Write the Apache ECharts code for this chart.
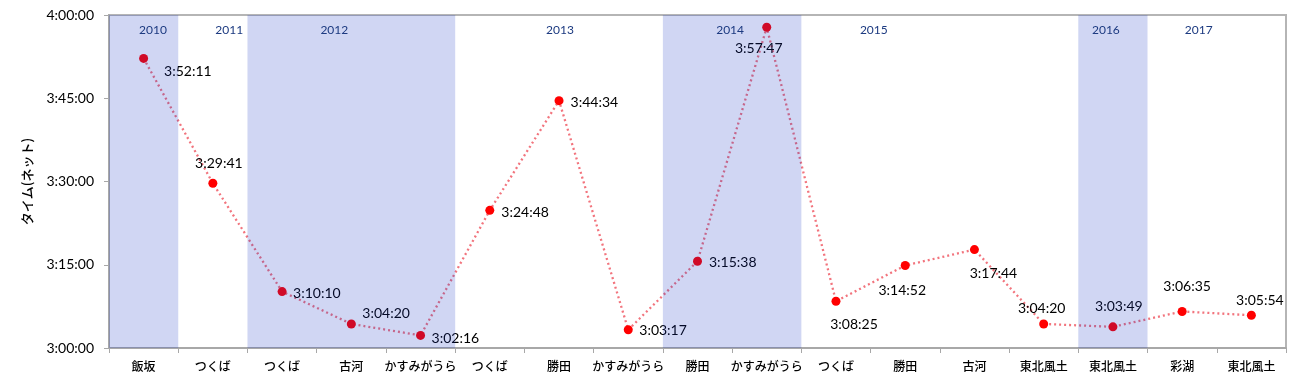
<!DOCTYPE html>
<html>
<head>
<meta charset="utf-8">
<script src="https://cdn.jsdelivr.net/npm/echarts@6/dist/echarts.min.js"></script>
<style>
  html, body { margin: 0; padding: 0; background: #fff; }
  #chart { width: 1300px; height: 388px; }
</style>
</head>
<body>
<div id="chart"></div>
<script>
// ---- data ----
const categories = ['飯坂', 'つくば', 'つくば', '古河', 'かすみがうら', 'つくば', '勝田', 'かすみがうら', '勝田', 'かすみがうら', 'つくば', '勝田', '古河', '東北風土', '東北風土', '彩湖', '東北風土'];
const netTimes = ['3:52:11', '3:29:41', '3:10:10', '3:04:20', '3:02:16', '3:24:48', '3:44:34', '3:03:17', '3:15:38', '3:57:47', '3:08:25', '3:14:52', '3:17:44', '3:04:20', '3:03:49', '3:06:35', '3:05:54'];
const yTickLabels = ['3:00:00', '3:15:00', '3:30:00', '3:45:00', '4:00:00'];
const yearLabels = ['2010', '2011', '2012', '2013', '2014', '2015', '2016', '2017'];
const yearStart = [0, 1, 2, 5, 8, 10, 14, 15];   // first category index of each year
const yearEnd = [1, 2, 5, 8, 10, 14, 15, 17];     // end (exclusive) category index
const yearShaded = [1, 0, 1, 0, 1, 0, 1, 0];

// ---- styles (not data) ----
const labelPlacement = [
  ['right', 11, 13], ['top', 6, -3], ['right', 1.5, 1.7], ['right', 1.5, -10], ['right', 1.5, 3],
  ['right', 2, 2], ['right', 2, 2], ['right', 1.5, 1], ['right', 2, 1.7], ['bottom', -8, 5],
  ['bottom', 18, 6.5], ['bottom', -3, 8.5], ['bottom', 19, 7], ['top', -2, 1], ['top', 6, -4],
  ['top', 5, -8.5], ['top', 8.5, 1.5]
];
const yearLabelDx = [9.4, 16.4, -17, 1, -2, -66, -7, -18];

function toSec(s) { const p = s.split(':').map(Number); return p[0] * 3600 + p[1] * 60 + p[2]; }
function fmt(v) {
  const h = Math.floor(v / 3600), m = Math.floor((v % 3600) / 60), s = Math.round(v % 60);
  return h + ':' + String(m).padStart(2, '0') + ':' + String(s).padStart(2, '0');
}
const yMin = toSec(yTickLabels[0]);
const yMax = toSec(yTickLabels[yTickLabels.length - 1]);
const yStep = toSec(yTickLabels[1]) - yMin;

const lineData = netTimes.map((t, i) => ({
  value: toSec(t),
  label: { position: labelPlacement[i][0], offset: [labelPlacement[i][1], labelPlacement[i][2]] }
}));
const bandData = yearLabels.map((y, i) => [yearStart[i], yearEnd[i], yearShaded[i]]);

const chart = echarts.init(document.getElementById('chart'), null, { renderer: 'canvas' });
chart.setOption({
  animation: false,
  backgroundColor: '#fff',
  grid: { left: 109, right: 14, top: 15, bottom: 40, show: true, borderColor: '#b5b5b5', borderWidth: 2, backgroundColor: 'transparent' },
  xAxis: [
    {
      type: 'category', data: categories, boundaryGap: true,
      axisLine: { lineStyle: { color: '#a8a8a8', width: 2 } },
      axisTick: { show: true, length: 5, lineStyle: { color: '#a8a8a8', width: 1 } },
      axisLabel: { interval: 0, margin: 12, color: '#000', fontSize: 12, fontWeight: 500, fontFamily: '"Noto Sans CJK JP"' }
    },
    { type: 'value', min: 0, max: categories.length, show: false }
  ],
  yAxis: {
    type: 'value', min: yMin, max: yMax, interval: yStep,
    name: 'タイム(ネット)', nameLocation: 'middle', nameGap: 75, nameRotate: 90,
    nameTextStyle: { color: '#000', fontSize: 13, fontWeight: 500, fontFamily: '"Noto Sans CJK JP"' },
    axisLine: { show: true, lineStyle: { color: '#a8a8a8', width: 2 } },
    axisTick: { show: true, length: 5, lineStyle: { color: '#a8a8a8' } },
    splitLine: { show: false },
    axisLabel: { margin: 15, color: '#000', fontSize: 14, fontFamily: 'Lato', formatter: fmt }
  },
  series: [
    {
      type: 'line', xAxisIndex: 0, yAxisIndex: 0, z: 2,
      data: lineData,
      symbol: 'circle', symbolSize: 9,
      itemStyle: { color: '#ff0000' },
      lineStyle: { color: '#f2747d', width: 2.3, type: [2, 3] },
      label: { show: true, color: '#000', fontSize: 14, fontFamily: 'Lato', distance: 5, formatter: p => fmt(p.value) }
    },
    {
      type: 'custom', xAxisIndex: 1, yAxisIndex: 0, z: 3, silent: true,
      data: bandData,
      renderItem: function (params, api) {
        const i = params.dataIndex;
        const p0 = api.coord([api.value(0), yMax]);
        const p1 = api.coord([api.value(1), yMin]);
        const children = [];
        if (api.value(2)) {
          children.push({
            type: 'rect',
            shape: { x: p0[0], y: p0[1], width: p1[0] - p0[0], height: p1[1] - p0[1] },
            style: { fill: 'rgba(20,50,195,0.2)' }
          });
        }
        children.push({
          type: 'text',
          style: {
            text: yearLabels[i], x: (p0[0] + p1[0]) / 2 + yearLabelDx[i], y: p0[1] + 15,
            align: 'center', verticalAlign: 'middle', fill: '#1c3a80', fontSize: 12, fontFamily: 'Lato'
          }
        });
        return { type: 'group', children: children };
      }
    }
  ]
});
</script>
</body>
</html>
